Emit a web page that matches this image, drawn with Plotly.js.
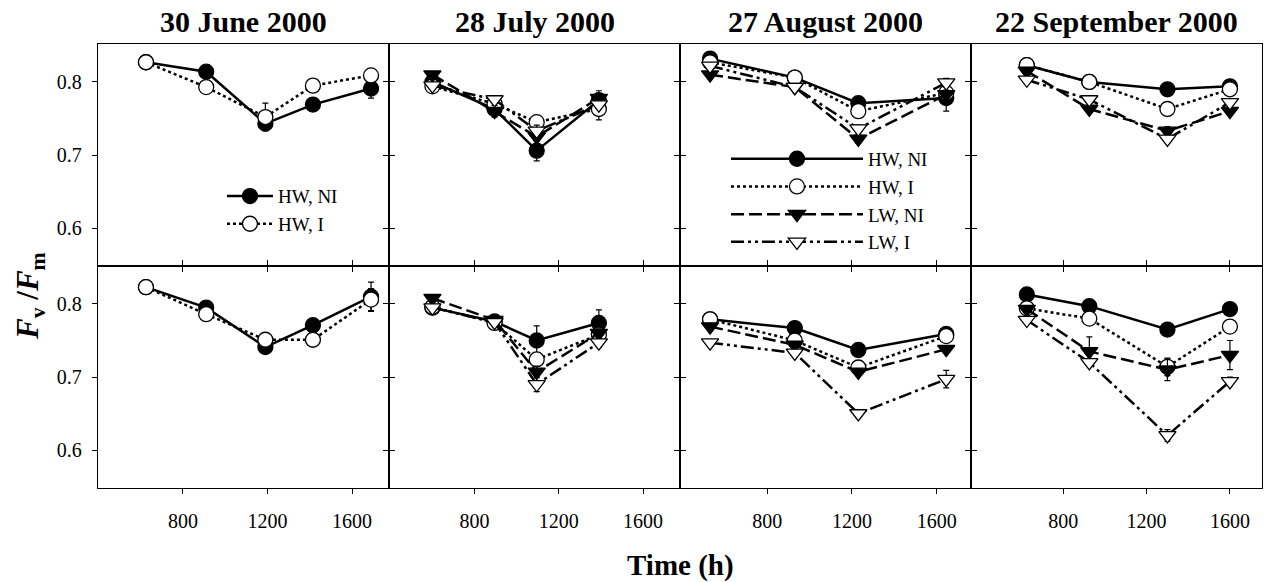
<!DOCTYPE html>
<html><head><meta charset="utf-8">
<script src="https://cdn.plot.ly/plotly-3.0.1.min.js"></script>
<style>body{margin:0;background:#fff}#chart{width:1275px;height:582px}</style>
</head><body><div id="chart"></div>
<script>
// ---- data ----
const panelTitles = ['30 June 2000', '28 July 2000', '27 August 2000', '22 September 2000'];
const seriesNames = ['HW, NI', 'HW, I', 'LW, NI', 'LW, I'];
const xTickVals = [800, 1200, 1600];
const yTickVals = [0.6, 0.7, 0.8];

const timeJune = [625, 910, 1190, 1415, 1690];
const timeJuly = [600, 895, 1095, 1390];
const timeAug = [530, 930, 1230, 1645];
const timeSep = [625, 925, 1300, 1600];

// top row
const juneTopHWNI = [0.827, 0.814, 0.743, 0.769, 0.791];
const juneTopHWNIerr = [0.004, 0.004, 0.005, 0.004, 0.013];
const juneTopHWI = [0.827, 0.793, 0.752, 0.795, 0.809];
const juneTopHWIerr = [0.003, 0.004, 0.019, 0.004, 0.005];

const julyTopHWNI = [0.800, 0.763, 0.706, 0.775];
const julyTopHWNIerr = [0.004, 0.008, 0.014, 0.006];
const julyTopHWI = [0.794, 0.770, 0.745, 0.763];
const julyTopHWIerr = [0.004, 0.005, 0.006, 0.015];
const julyTopLWNI = [0.810, 0.760, 0.725, 0.778];
const julyTopLWNIerr = [0.004, 0.008, 0.006, 0.010];
const julyTopLWI = [0.795, 0.776, 0.733, 0.769];
const julyTopLWIerr = [0.004, 0.004, 0.008, 0.006];

const augTopHWNI = [0.832, 0.806, 0.771, 0.778];
const augTopHWNIerr = [0.004, 0.004, 0.004, 0.018];
const augTopHWI = [0.827, 0.806, 0.760, 0.785];
const augTopHWIerr = [0.004, 0.004, 0.005, 0.006];
const augTopLWNI = [0.810, 0.793, 0.722, 0.783];
const augTopLWNIerr = [0.004, 0.004, 0.006, 0.006];
const augTopLWI = [0.822, 0.793, 0.736, 0.799];
const augTopLWIerr = [0.004, 0.004, 0.005, 0.006];

const sepTopHWNI = [0.823, 0.800, 0.790, 0.794];
const sepTopHWNIerr = [0.004, 0.004, 0.004, 0.004];
const sepTopHWI = [0.823, 0.800, 0.763, 0.790];
const sepTopHWIerr = [0.004, 0.004, 0.005, 0.004];
const sepTopLWNI = [0.815, 0.763, 0.733, 0.760];
const sepTopLWNIerr = [0.004, 0.005, 0.006, 0.005];
const sepTopLWI = [0.803, 0.776, 0.722, 0.772];
const sepTopLWIerr = [0.004, 0.004, 0.005, 0.004];

// bottom row
const juneBotHWNI = [0.823, 0.795, 0.741, 0.771, 0.810];
const juneBotHWNIerr = [0.003, 0.004, 0.004, 0.004, 0.020];
const juneBotHWI = [0.823, 0.786, 0.751, 0.751, 0.806];
const juneBotHWIerr = [0.003, 0.004, 0.004, 0.004, 0.015];

const julyBotHWNI = [0.795, 0.776, 0.750, 0.774];
const julyBotHWNIerr = [0.004, 0.004, 0.020, 0.018];
const julyBotHWI = [0.796, 0.774, 0.724, 0.758];
const julyBotHWIerr = [0.004, 0.004, 0.006, 0.006];
const julyBotLWNI = [0.808, 0.778, 0.707, 0.760];
const julyBotLWNIerr = [0.004, 0.004, 0.008, 0.006];
const julyBotLWI = [0.795, 0.775, 0.690, 0.747];
const julyBotLWIerr = [0.004, 0.004, 0.010, 0.006];

const augBotHWNI = [0.779, 0.767, 0.737, 0.759];
const augBotHWNIerr = [0.004, 0.004, 0.004, 0.004];
const augBotHWI = [0.779, 0.750, 0.713, 0.756];
const augBotHWIerr = [0.004, 0.004, 0.004, 0.004];
const augBotLWNI = [0.769, 0.744, 0.707, 0.738];
const augBotLWNIerr = [0.004, 0.004, 0.004, 0.004];
const augBotLWI = [0.747, 0.733, 0.650, 0.697];
const augBotLWIerr = [0.004, 0.004, 0.005, 0.012];

const sepBotHWNI = [0.813, 0.797, 0.765, 0.793];
const sepBotHWNIerr = [0.004, 0.004, 0.004, 0.004];
const sepBotHWI = [0.794, 0.780, 0.714, 0.769];
const sepBotHWIerr = [0.004, 0.004, 0.012, 0.004];
const sepBotLWNI = [0.793, 0.735, 0.710, 0.730];
const sepBotLWNIerr = [0.004, 0.020, 0.015, 0.020];
const sepBotLWI = [0.778, 0.720, 0.620, 0.694];
const sepBotLWIerr = [0.004, 0.004, 0.008, 0.006];

// ---- styles ----
const styleBySeries = {
  'HW, NI': {dash: 'solid', symbol: 'circle', fill: '#000000'},
  'HW, I':  {dash: 'dot', symbol: 'circle', fill: '#ffffff'},
  'LW, NI': {dash: '13px,5px', symbol: 'triangle-down', fill: '#000000'},
  'LW, I':  {dash: '13px,4px,3px,4px,3px,4px', symbol: 'triangle-down', fill: '#ffffff'}
};

const panels = [
  {ax: 1, t: timeJune, s: [[juneTopHWNI, juneTopHWNIerr], [juneTopHWI, juneTopHWIerr]], legend: 'legend'},
  {ax: 2, t: timeJuly, s: [[julyTopHWNI, julyTopHWNIerr], [julyTopHWI, julyTopHWIerr], [julyTopLWNI, julyTopLWNIerr], [julyTopLWI, julyTopLWIerr]]},
  {ax: 3, t: timeAug, s: [[augTopHWNI, augTopHWNIerr], [augTopHWI, augTopHWIerr], [augTopLWNI, augTopLWNIerr], [augTopLWI, augTopLWIerr]], legend: 'legend2'},
  {ax: 4, t: timeSep, s: [[sepTopHWNI, sepTopHWNIerr], [sepTopHWI, sepTopHWIerr], [sepTopLWNI, sepTopLWNIerr], [sepTopLWI, sepTopLWIerr]]},
  {ax: 5, t: timeJune, s: [[juneBotHWNI, juneBotHWNIerr], [juneBotHWI, juneBotHWIerr]]},
  {ax: 6, t: timeJuly, s: [[julyBotHWNI, julyBotHWNIerr], [julyBotHWI, julyBotHWIerr], [julyBotLWNI, julyBotLWNIerr], [julyBotLWI, julyBotLWIerr]]},
  {ax: 7, t: timeAug, s: [[augBotHWNI, augBotHWNIerr], [augBotHWI, augBotHWIerr], [augBotLWNI, augBotLWNIerr], [augBotLWI, augBotLWIerr]]},
  {ax: 8, t: timeSep, s: [[sepBotHWNI, sepBotHWNIerr], [sepBotHWI, sepBotHWIerr], [sepBotLWNI, sepBotLWNIerr], [sepBotLWI, sepBotLWIerr]]}
];

const traces = [];
panels.forEach(p => {
  p.s.forEach((pair, k) => {
    const name = seriesNames[k];
    const st = styleBySeries[name];
    const tr = {
      type: 'scatter', mode: 'lines+markers', name: name,
      x: p.t, y: pair[0],
      xaxis: 'x' + p.ax, yaxis: 'y' + p.ax,
      line: {color: '#000', width: 2.5, dash: st.dash},
      marker: {symbol: st.symbol, size: 15, color: st.fill, line: {color: '#000', width: 1.3}},
      error_y: {type: 'data', array: pair[1], visible: true, color: '#000', thickness: 1.2, width: 3},
      showlegend: !!p.legend,
      cliponaxis: false
    };
    if (p.legend) tr.legend = p.legend;
    traces.push(tr);
  });
});

const font = {family: 'Liberation Serif, Times New Roman, serif', color: '#000'};
const xRanges = [[398, 1775], [394, 1775], [388, 1762], [357, 1754]];
const layout = {
  width: 1275, height: 582,
  margin: {l: 98, r: 13, t: 44, b: 94},
  paper_bgcolor: '#fff', plot_bgcolor: '#fff',
  font: Object.assign({size: 20}, font),
  legend: {x: 0.1065, y: 0.70, xanchor: 'left', yanchor: 'top', bgcolor: 'rgba(0,0,0,0)',
           font: Object.assign({size: 19}, font), itemwidth: 46, tracegroupgap: 0},
  legend2: {x: 0.5395, y: 0.784, xanchor: 'left', yanchor: 'top', bgcolor: 'rgba(0,0,0,0)',
            font: Object.assign({size: 19}, font), itemwidth: 132, tracegroupgap: 0},
  annotations: [],
  showlegend: true
};

for (let i = 1; i <= 8; i++) {
  const col = (i - 1) % 4;
  const top = i <= 4;
  layout['xaxis' + i] = {
    domain: [col / 4, (col + 1) / 4],
    range: xRanges[col],
    anchor: 'y' + i,
    tickvals: xTickVals,
    ticks: 'outside', ticklen: 5, tickwidth: 1, tickcolor: '#000',
    showticklabels: !top,
    ticklabelstandoff: 10,
    showline: true, linecolor: '#000', linewidth: 1.2,
    mirror: top ? true : 'ticks',
    showgrid: false, zeroline: false,
    tickfont: Object.assign({size: 20}, font)
  };
  layout['yaxis' + i] = {
    domain: top ? [0.5, 1] : [0, 0.5],
    range: [0.548, 0.852],
    anchor: 'x' + i,
    tickvals: yTickVals,
    ticks: 'outside', ticklen: 5, tickwidth: 1, tickcolor: '#000',
    showticklabels: col === 0,
    ticklabelstandoff: 6,
    showline: true, linecolor: '#000', linewidth: 1.2,
    mirror: col < 3 ? 'ticks' : true,
    showgrid: false, zeroline: false,
    tickfont: Object.assign({size: 20}, font)
  };
}

panelTitles.forEach((t, c) => {
  layout.annotations.push({
    text: '<b>' + t + '</b>', xref: 'paper', yref: 'paper',
    x: (c + 0.5) / 4, y: 1, xanchor: 'center', yanchor: 'middle', yshift: 23,
    showarrow: false, font: Object.assign({size: 30}, font)
  });
});
layout.annotations.push({
  text: '<b><i>F</i><sub>v</sub> /<i>F</i><sub>m</sub></b>', xref: 'paper', yref: 'paper',
  x: 0, y: 0.5, xshift: -68, yshift: -30, textangle: -90,
  xanchor: 'center', yanchor: 'middle', showarrow: false,
  font: Object.assign({size: 31}, font)
});
layout.annotations.push({
  text: '<b>Time (h)</b>', xref: 'paper', yref: 'paper',
  x: 0.5, y: 0, yshift: -77, xanchor: 'center', yanchor: 'middle', showarrow: false,
  font: Object.assign({size: 29}, font)
});

Plotly.newPlot('chart', traces, layout, {displayModeBar: false, staticPlot: true});
</script>
</body></html>
